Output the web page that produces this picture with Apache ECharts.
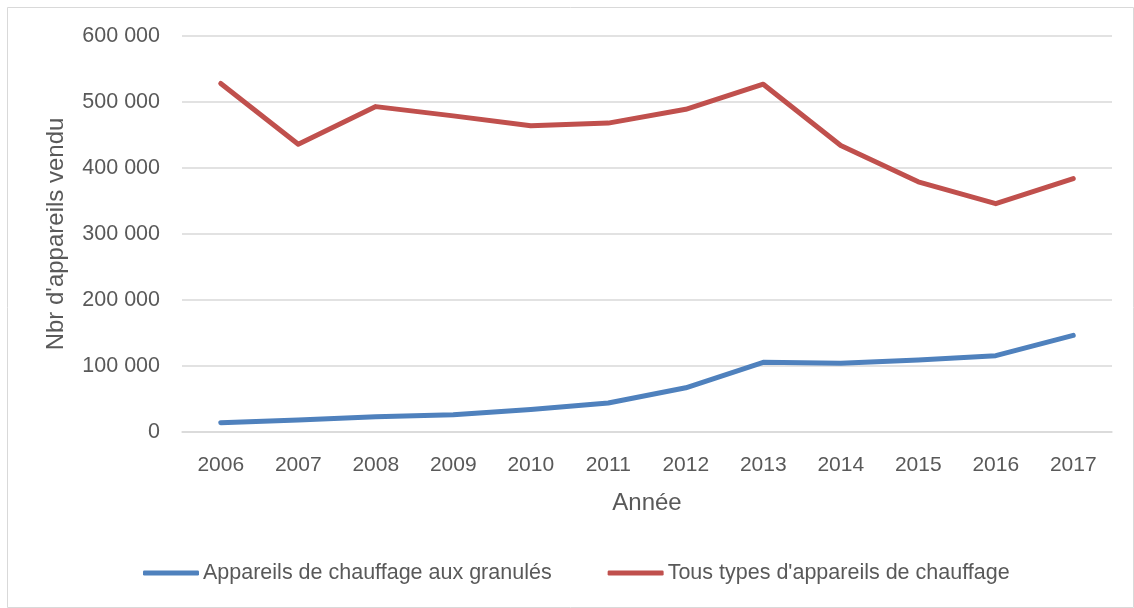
<!DOCTYPE html>
<html>
<head>
<meta charset="utf-8">
<script src="https://cdn.jsdelivr.net/npm/echarts@6/dist/echarts.min.js"></script>
<style>
html,body{margin:0;padding:0;background:#fff;}
#c{width:1134px;height:608px;}
</style>
</head>
<body>
<div id="c"></div>
<script>
const years = ['2006','2007','2008','2009','2010','2011','2012','2013','2014','2015','2016','2017'];
const granules = [14000, 18000, 23000, 26000, 34000, 44000, 67000, 105600, 104000, 109000, 115600, 146500];
const tousTypes = [528000, 436000, 493000, 479000, 464000, 468000, 489000, 527000, 434000, 379000, 346000, 384000];
const seriesNames = ['Appareils de chauffage aux granulés', "Tous types d'appareils de chauffage"];
const xTitle = 'Année';
const yTitle = "Nbr d'appareils vendu";

const font = '"Liberation Sans", sans-serif';
const chart = echarts.init(document.getElementById('c'));
chart.setOption({
  animation: false,
  backgroundColor: '#fff',
  textStyle: { fontFamily: font },
  graphic: [{
    type: 'rect', shape: { x: 7.5, y: 7.5, width: 1126, height: 600 },
    style: { fill: 'none', stroke: '#d9d9d9', lineWidth: 1 }, silent: true
  }],
  grid: { left: 182, right: 22, top: 36, bottom: 176, containLabel: false },
  legend: {
    top: 557, left: 138,
    itemWidth: 56, itemHeight: 5, itemGap: 56,
    icon: 'roundRect',
    textStyle: { fontSize: 21.5, color: '#595959', fontFamily: font, padding: [0,0,0,-1] },
    data: seriesNames
  },
  xAxis: {
    type: 'category', data: years, boundaryGap: true,
    name: xTitle, nameLocation: 'middle', nameGap: 59,
    nameTextStyle: { fontSize: 24, color: '#595959', fontFamily: font },
    axisLine: { lineStyle: { color: '#d9d9d9', width: 1.5 } },
    axisTick: { show: false },
    axisLabel: { fontSize: 21, color: '#595959', margin: 23, fontFamily: font }
  },
  yAxis: {
    type: 'value', min: 0, max: 600000, interval: 100000,
    name: yTitle, nameLocation: 'middle', nameGap: 114, nameRotate: 90,
    nameTextStyle: { fontSize: 24, color: '#595959', fontFamily: font },
    axisLine: { show: false }, axisTick: { show: false },
    splitLine: { lineStyle: { color: '#d9d9d9', width: 1.5 } },
    axisLabel: {
      fontSize: 21.5, color: '#595959', margin: 22, fontFamily: font,
      formatter: v => v === 0 ? '0' : String(v).replace(/\B(?=(\d{3})+(?!\d))/g, ' ')
    }
  },
  series: [
    { name: seriesNames[0], type: 'line', data: granules, symbol: 'none',
      lineStyle: { color: '#4f81bd', width: 5, cap: 'round', join: 'round' }, itemStyle: { color: '#4f81bd' } },
    { name: seriesNames[1], type: 'line', data: tousTypes, symbol: 'none',
      lineStyle: { color: '#c0504d', width: 5, cap: 'round', join: 'round' }, itemStyle: { color: '#c0504d' } }
  ]
});
</script>
</body>
</html>
